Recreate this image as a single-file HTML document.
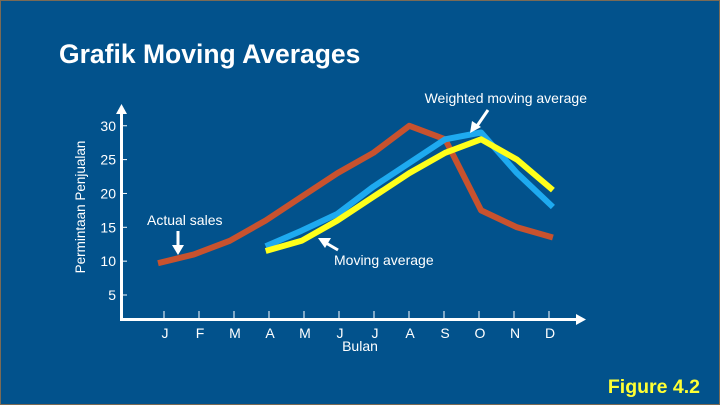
<!DOCTYPE html>
<html><head><meta charset="utf-8"><style>
html,body{margin:0;padding:0;background:#02528c;}
svg{display:block;font-family:"Liberation Sans",Arial,sans-serif;}
</style></head><body>
<svg width="720" height="405" viewBox="0 0 720 405">
<rect x="0.5" y="0.5" width="719" height="404" fill="#02528c" stroke="#7a6a55" stroke-width="1"/>
<text x="59" y="63" font-size="26.5" font-weight="bold" fill="#ffffff">Grafik Moving Averages</text>
<g id="axes"></g>
<g id="series"></g>
<g id="ann">
<text x="587" y="103" font-size="14" fill="#ffffff" text-anchor="end">Weighted moving average</text>
<line x1="488" y1="110" x2="477" y2="126" stroke="#ffffff" stroke-width="3"/>
<polygon points="470,133 472,121 481,127" fill="#ffffff"/>
<text x="147" y="225" font-size="14" fill="#ffffff">Actual sales</text>
<line x1="178" y1="231" x2="178" y2="247" stroke="#ffffff" stroke-width="3"/>
<polygon points="172,245 184,245 178,255" fill="#ffffff"/>
<text x="334" y="265" font-size="14" fill="#ffffff">Moving average</text>
<line x1="338" y1="250" x2="326" y2="243" stroke="#ffffff" stroke-width="3"/>
<polygon points="318,238 331,238 325,248" fill="#ffffff"/>
<text x="360" y="351" font-size="14" fill="#ffffff" text-anchor="middle">Bulan</text>
<text transform="translate(85,207) rotate(-90)" font-size="13.5" fill="#ffffff" text-anchor="middle">Permintaan Penjualan</text>
<text x="700" y="393" font-size="19.5" font-weight="bold" fill="#ffff33" text-anchor="end">Figure 4.2</text>
</g>
</svg>
<script>
const months = ["J","F","M","A","M","J","J","A","S","O","N","D"];
const yTicks = [5,10,15,20,25,30];
const actualSales = [9.7,11,13,16,19.5,23,26,30,28,17.5,15,13.5];
const movingAverage = [null,null,null,11.5,13,16,19.5,23,26,28,25,20.5];
const weightedAverage = [null,null,null,12.2,14.5,17,21,24.5,28,29,23,18];
const NS="http://www.w3.org/2000/svg";
function xPt(i){return 158+35.9*i;}
function xTick(i){return 164+35*i;}
function yS(v){return 295-(v-5)*6.77;}
function mk(tag,attrs,parent){const e=document.createElementNS(NS,tag);for(const k in attrs)e.setAttribute(k,attrs[k]);parent.appendChild(e);return e;}
const axes=document.getElementById('axes');
let a=mk('line',{x1:121.5,y1:320,x2:121.5,y2:112,stroke:'#fff','stroke-width':3},axes);


a=mk('polygon',{points:'116,114 127,114 121.5,104',fill:'#fff'},axes);


a=mk('line',{x1:120,y1:319.5,x2:578,y2:319.5,stroke:'#fff','stroke-width':3},axes);


a=mk('polygon',{points:'576,314 576,325 586,319.5',fill:'#fff'},axes);


yTicks.forEach(v=>{
  const t=mk('line',{x1:122,y1:yS(v),x2:127,y2:yS(v),stroke:'#fff','stroke-width':1},axes);
  
  
  const l=mk('text',{x:116,y:yS(v)+5,'font-size':14,fill:'#fff','text-anchor':'end'},axes);
  l.textContent=v;
  
  
});
months.forEach((m,i)=>{
  const t=mk('line',{x1:xTick(i),y1:311,x2:xTick(i),y2:318,stroke:'#fff','stroke-width':1},axes);
  
  
  const l=mk('text',{x:xTick(i)+1,y:338,'font-size':14,fill:'#fff','text-anchor':'middle'},axes);
  l.textContent=m;
  
  
});
const series=document.getElementById('series');
function path(arr){let d='';arr.forEach((v,i)=>{if(v==null)return;d+=(d?'L':'M')+xPt(i).toFixed(1)+','+yS(v).toFixed(1);});return d;}
let p=mk('path',{d:path(actualSales),fill:'none',stroke:'#c8522e','stroke-width':6,'stroke-linejoin':'round'},series);


p=mk('path',{d:path(weightedAverage),fill:'none',stroke:'#1eaaf0','stroke-width':6,'stroke-linejoin':'round'},series);


p=mk('path',{d:path(movingAverage),fill:'none',stroke:'#ffff1a','stroke-width':6,'stroke-linejoin':'round'},series);


</script>
</body></html>
